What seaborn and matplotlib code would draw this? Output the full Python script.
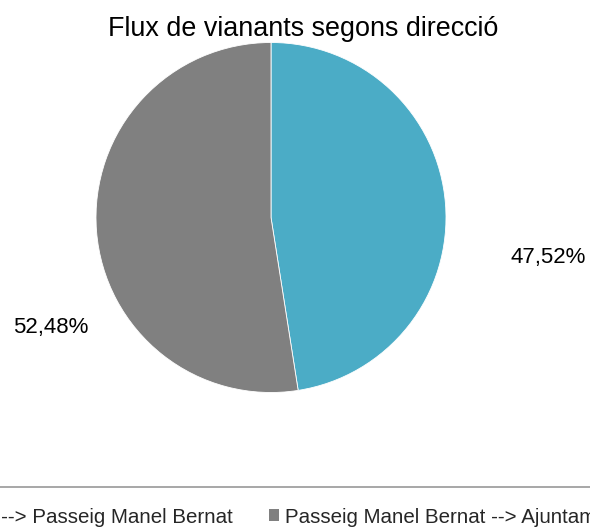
import matplotlib
matplotlib.use("Agg")
import matplotlib.pyplot as plt
import seaborn as sns
from matplotlib.patches import Patch

sns.set_theme(style="white")
plt.rcParams['font.family'] = ['Liberation Sans', 'DejaVu Sans']

# data
directions = ["Ajuntament --> Passeig Manel Bernat",
              "Passeig Manel Bernat --> Ajuntament"]
shares = [47.52, 52.48]
share_labels = ["47,52%", "52,48%"]
colors = ["#4BACC6", "#808080"]

W, H = 590, 532
fig = plt.figure(figsize=(W / 100, H / 100), dpi=100)

# pie centre (271, 217) px, radius 175 px
cx, cy, r = 271, 217.5, 175
ax = fig.add_axes([(cx - r) / W, (H - cy - r) / H, 2 * r / W, 2 * r / H])
ax.pie(shares, colors=colors, startangle=90, counterclock=False,
       wedgeprops=dict(edgecolor="white", linewidth=0.6))
ax.set_xlim(-1, 1)
ax.set_ylim(-1, 1)

# percentage labels, placed like Excel's best fit
label_pos = [(1.583, -0.231), (-1.257, -0.626)]
for txt, (x, y) in zip(share_labels, label_pos):
    ax.text(x, y, txt, ha="center", va="center", fontsize=16,
            color="black", clip_on=False)

fig.text(303 / W, 1 - 36 / H, "Flux de vianants segons direcció",
         ha="center", va="baseline", fontsize=19.4, color="black")

handles = [Patch(facecolor=c, edgecolor="none") for c in colors]
leg = fig.legend(handles, directions, loc="upper center",
                 bbox_to_anchor=(250.5 / W, 1 - 487 / H), ncol=2,
                 fontsize=14.8, frameon=True, fancybox=False,
                 edgecolor="#7f7f7f", borderaxespad=0, borderpad=1.0,
                 handlelength=0.5, handleheight=0.5, handletextpad=0.3,
                 columnspacing=1.75)
leg.get_frame().set_linewidth(1.2)

fig.savefig("out.png", dpi=100)
